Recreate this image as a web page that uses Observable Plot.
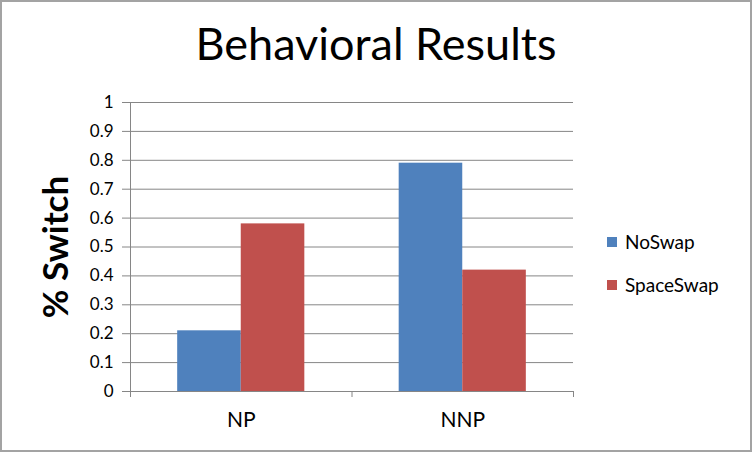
<!DOCTYPE html>
<html><head><meta charset="utf-8">
<script src="https://cdn.jsdelivr.net/npm/d3@7"></script>
<script src="https://cdn.jsdelivr.net/npm/@observablehq/plot@0.6"></script>
<style>
body{margin:0;background:#fff;}
#wrap{position:relative;width:752px;height:452px;overflow:hidden;font-family:Lato,"Open Sans",sans-serif;background:#fff;}
#border{position:absolute;left:0;top:0;width:752px;height:452px;box-sizing:border-box;border:2px solid #a3a3a3;pointer-events:none;}
#title{position:absolute;left:0;width:752px;top:19px;text-align:center;font-size:45px;color:#000;line-height:1.1;}
#ylabel{position:absolute;left:54px;top:247px;transform:translate(-50%,-50%) rotate(-90deg);white-space:nowrap;font-weight:bold;font-size:35px;color:#000;}
#legend{position:absolute;left:607px;top:231px;font-size:19px;color:#000;}
.li{display:flex;align-items:center;height:21px;margin-bottom:22px;}
.sw{width:10px;height:10px;margin-right:8px;}
#chart svg{position:absolute;left:0;top:0;}
</style></head>
<body>
<div id="wrap">
  <div id="chart"></div>
  <div id="title"></div>
  <div id="ylabel"></div>
  <div id="legend"></div>
  <div id="border"></div>
</div>
<script>
const titleText = "Behavioral Results";
const yLabel = "% Switch";
const categories = ["NP", "NNP"];
const series = ["NoSwap", "SpaceSwap"];
const noSwap = [0.21, 0.79];
const spaceSwap = [0.58, 0.42];
const yTicks = [0, 0.1, 0.2, 0.3, 0.4, 0.5, 0.6, 0.7, 0.8, 0.9, 1];
const colors = ["#4F81BD", "#C0504D"];

const values = [noSwap, spaceSwap];
const rows = categories.flatMap((c, i) => series.map((s, j) => ({cat: c, i, series: s, j, value: values[j][i]})));
const w = 0.287; // bar width, in category units
const gray = "#868686";

const chart = Plot.plot({
  width: 752, height: 452,
  marginTop: 102, marginBottom: 61, marginLeft: 130, marginRight: 179,
  style: {fontFamily: "Lato, 'Open Sans', sans-serif", background: "transparent", color: "#000"},
  x: {domain: [0, categories.length], axis: null},
  y: {domain: [0, 1], axis: null},
  color: {domain: series, range: colors},
  marks: [
    Plot.ruleY(yTicks, {stroke: gray, strokeWidth: 1}),
    Plot.ruleX([0], {stroke: gray}),
    Plot.rectY(rows, {
      x1: d => d.i + 0.5 - (1 - d.j) * w,
      x2: d => d.i + 0.5 + d.j * w,
      y: "value", fill: "series"
    }),
    Plot.axisY({ticks: yTicks, tickSize: 8, tickPadding: 9, tickFormat: d3.format("~g"), fontSize: 17, stroke: gray, fill: "#000", label: null}),
    Plot.axisX({ticks: d3.range(categories.length + 1), tickSize: 6, tickFormat: () => "", stroke: gray, label: null}),
    Plot.axisX({ticks: categories.map((c, i) => i + 0.5), tickSize: 0, tickPadding: 21, tickFormat: d => categories[Math.floor(d)], fontSize: 21, fill: "#000", label: null})
  ]
});
document.getElementById("chart").appendChild(chart);
document.getElementById("title").textContent = titleText;
document.getElementById("ylabel").textContent = yLabel;
const lg = document.getElementById("legend");
series.forEach((s, j) => {
  const row = document.createElement("div"); row.className = "li";
  const sw = document.createElement("div"); sw.className = "sw"; sw.style.background = colors[j];
  const t = document.createElement("span"); t.textContent = s;
  row.appendChild(sw); row.appendChild(t); lg.appendChild(row);
});
</script>
</body></html>
